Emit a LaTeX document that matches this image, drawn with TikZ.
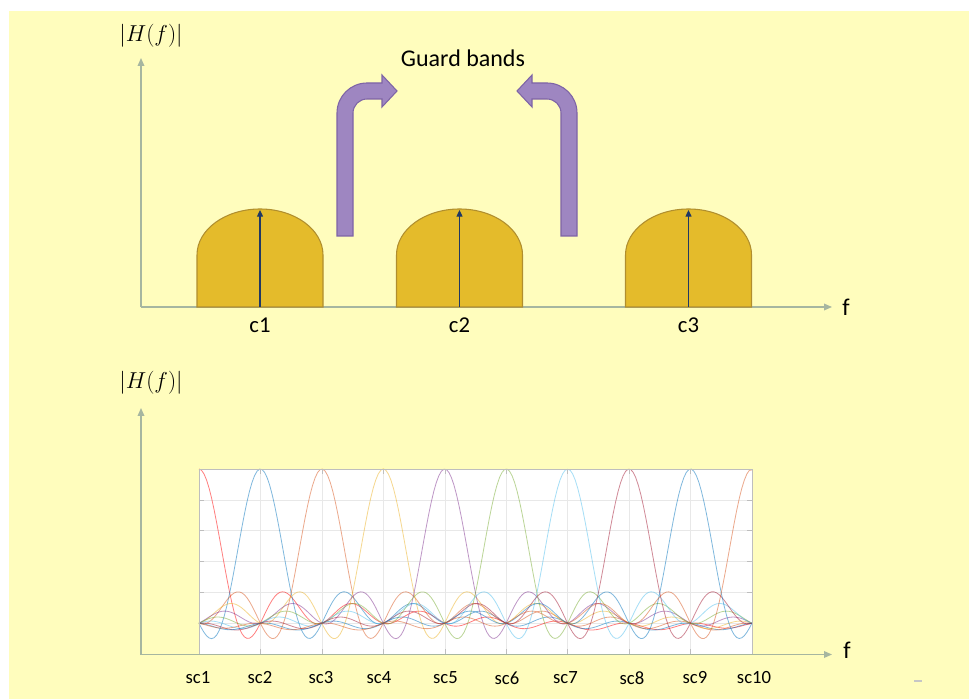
\documentclass[tikz,border=0pt]{standalone}
\usepackage{fontspec}
\setmainfont{Carlito}
\usetikzlibrary{arrows.meta}

\definecolor{bgyellow}{RGB}{255,253,189}
\definecolor{axisgray}{RGB}{166,182,160}
\definecolor{bandgold}{RGB}{228,187,43}
\definecolor{banddark}{RGB}{176,142,46}
\definecolor{navy}{RGB}{32,56,100}
\definecolor{guardpurple}{RGB}{158,134,193}
\definecolor{guarddark}{RGB}{126,100,166}
\definecolor{gridgray}{RGB}{232,232,232}
\definecolor{framegray}{RGB}{190,190,190}
\definecolor{cred}{RGB}{255,0,0}
\definecolor{cblue}{RGB}{0,114,189}
\definecolor{corange}{RGB}{217,83,25}
\definecolor{cyellow}{RGB}{237,177,32}
\definecolor{cpurple}{RGB}{126,47,142}
\definecolor{cgreen}{RGB}{119,172,48}
\definecolor{ccyan}{RGB}{77,190,238}
\definecolor{cwine}{RGB}{162,20,47}

\begin{document}
\begin{tikzpicture}[x=0.75pt, y=0.75pt,
  >={Triangle[length=6pt, width=5pt]},
  axis/.style={draw=axisgray, line width=0.9pt, ->},
  band/.style={fill=bandgold, draw=banddark, line width=0.8pt},
  carrier/.style={draw=navy, line width=0.9pt, -{Triangle[length=5pt, width=4.5pt]}},
  guard/.style={fill=guardpurple, draw=guarddark, line width=0.8pt},
  lbl/.style={font=\fontsize{17}{20}\selectfont},
  sclbl/.style={font=\fontsize{14}{17}\selectfont},
  maglbl/.style={font=\fontsize{19}{22}\selectfont},
  declare function={osinc(\u)=sin(180*(\u+0.001))/(pi*(\u+0.001))*cos(144*\u);}]

  % Background
  \useasboundingbox (0,0) rectangle (969,699);
  \fill[bgyellow] (9,0) rectangle (969,688);

  % Top axes
  \coordinate (O1) at (141,392);
  \coordinate (Y1) at (141,641);
  \coordinate (X1) at (832,392);
  \draw[axis] (O1) -- (Y1);
  \draw[axis] (O1) -- (X1);
  \node[maglbl] (mag1) at (151,663) {$|H(f)|$};
  \node[lbl, font=\fontsize{18}{20}\selectfont] (f1) at (846,392) {f};

  % Carriers with their bands
  \foreach \cx/\nm in {260/c1, 459.5/c2, 688.5/c3} {
    \draw[band] (\cx-63,392) -- (\cx-63,444)
      arc[start angle=180, end angle=0, x radius=63, y radius=46]
      -- (\cx+63,392) -- cycle;
    \coordinate (\nm base) at (\cx,392);
    \coordinate (\nm top) at (\cx,489);
    \draw[carrier] (\nm base) -- (\nm top);
    \node[lbl] (\nm) at (\cx,374) {\nm};
  }

  % Guard band arrows (left one, then its mirror)
  \foreach \s/\sh in {1/0, -1/914} {
    \begin{scope}[shift={(\sh,0)}, xscale=\s]
      \draw[guard] (337,463) -- (337,586)
        arc[start angle=180, end angle=90, radius=30]
        -- (382,616) -- (382,624) -- (397,608) -- (382,592) -- (382,600)
        -- (367,600) arc[start angle=90, end angle=180, radius=14]
        -- (353,463) -- cycle;
    \end{scope}
  }
  \node[font=\fontsize{18}{20}\selectfont] (guard) at (463,641) {Guard bands};

  % Bottom axes
  \coordinate (O2) at (141,44.5);
  \coordinate (Y2) at (141,291);
  \coordinate (X2) at (832,44.5);
  \node[maglbl] (mag2) at (151,316) {$|H(f)|$};
  \node[font=\fontsize{18}{20}\selectfont] (f2) at (847,48.5) {f};

  % Subcarrier spectra
  \begin{scope}[shift={(199,75.8)}, x=46.08pt, y=115.65pt]
    \fill[white] (0,-0.2) rectangle (9,1);
    \foreach \u in {1,...,8}
      \draw[gridgray, line width=0.4pt] (\u,-0.2) -- (\u,1);
    \foreach \v in {0,0.2,0.4,0.6,0.8}
      \draw[gridgray, line width=0.4pt] (0,\v) -- (9,\v);
    \foreach \v in {0,0.2,0.4,0.6,0.8}
      \draw[framegray, line width=0.4pt] (0,\v) -- (0.08,\v) (9,\v) -- (8.92,\v);
    \foreach \u in {1,...,8}
      \draw[framegray, line width=0.4pt] (\u,-0.2) -- (\u,-0.17) (\u,1) -- (\u,0.97);
    \foreach \k/\c in {0/cred, 1/cblue, 2/corange, 3/cyellow, 4/cpurple,
                       5/cgreen, 6/ccyan, 7/cwine, 8/cblue, 9/corange}
      \draw[\c, line width=0.6pt, draw opacity=0.5]
        plot[domain=0:9, samples=220] (\x, {osinc(\x-\k)});
    \draw[framegray, line width=0.6pt] (0,-0.2) rectangle (9,1);
  \end{scope}
  \draw[axis] (O2) -- (Y2);
  \draw[axis] (O2) -- (X2);

  % Subcarrier labels
  \foreach \sx/\i in {198/1, 260/2, 321/3, 379/4, 445.5/5,
                      507/6, 565.5/7, 632/8, 695/9, 754/10}
    \node[sclbl] (sc\i) at (\sx,21) {sc\i};

  \fill[gray!45] (914,17) rectangle (922,19);
\end{tikzpicture}
\end{document}
